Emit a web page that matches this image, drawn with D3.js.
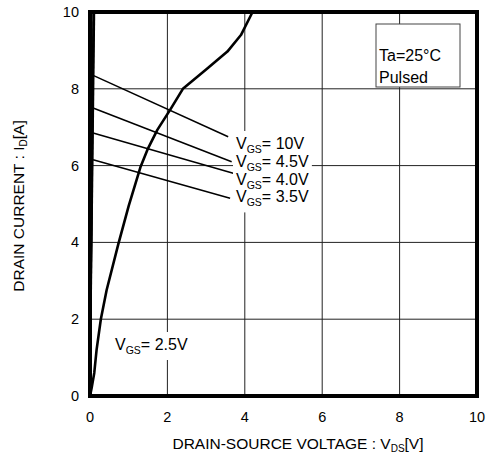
<!DOCTYPE html>
<html>
<head>
<meta charset="utf-8">
<script src="https://cdn.jsdelivr.net/npm/d3@7"></script>
<style>
  html, body { margin: 0; padding: 0; background: #fff; }
  svg { display: block; }
  text { font-family: Arial, "Liberation Sans", sans-serif; fill: #000; }
</style>
</head>
<body>
<svg id="chart" width="487" height="456"></svg>
<script>
// Axis ticks
const xTicks = [0, 2, 4, 6, 8, 10];
const yTicks = [0, 2, 4, 6, 8, 10];

// Gate-source voltage labels
const gateLabels = ["10V", "4.5V", "4.0V", "3.5V"];
const lowGateLabel = "2.5V";

// ID–VDS curves, [VDS (V), ID (A)]
const curve10V  = [[0, 0], [0.08, 10]];
const curve45V  = [[0, 0], [0.09, 10]];
const curve40V  = [[0, 0], [0.10, 10]];
const curve35V  = [[0, 0], [0.115, 10]];
const curve25V  = [
  [0, 0], [0.05, 0.25], [0.11, 0.6], [0.17, 1.2], [0.28, 2.0], [0.43, 2.76],
  [0.73, 3.95], [1.0, 4.95], [1.3, 5.95], [1.5, 6.45], [1.74, 6.93],
  [2.07, 7.45], [2.4, 8.0], [3.0, 8.5], [3.55, 8.97], [3.9, 9.4], [4.2, 10]
];

// Leader lines from the steep curves to their labels, [VDS, ID] start and end
const leaderStart = [[0.08, 8.35], [0.08, 7.5], [0.08, 6.85], [0.08, 6.15]];
const leaderEnd   = [[3.57, 6.75], [3.66, 6.1], [3.7, 5.8], [3.62, 5.15]];

const svg = d3.select("#chart");
const x = d3.scaleLinear().domain([0, 10]).range([90, 477]);
const y = d3.scaleLinear().domain([0, 10]).range([396, 12]);

// Grid
const grid = svg.append("g").attr("stroke", "#222").attr("stroke-width", 1);
grid.selectAll("line.v").data(xTicks.slice(1, -1)).join("line")
  .attr("x1", d => x(d)).attr("x2", d => x(d))
  .attr("y1", y(0)).attr("y2", y(10));
grid.selectAll("line.h").data(yTicks.slice(1, -1)).join("line")
  .attr("y1", d => y(d)).attr("y2", d => y(d))
  .attr("x1", x(0)).attr("x2", x(10));

// Tick labels
svg.append("g").selectAll("text").data(xTicks).join("text")
  .attr("x", d => x(d)).attr("y", 422)
  .attr("text-anchor", "middle").attr("font-size", 14.5)
  .text(d => d);
svg.append("g").selectAll("text").data(yTicks).join("text")
  .attr("x", 79).attr("y", d => y(d) + 5)
  .attr("text-anchor", "end").attr("font-size", 14.5)
  .text(d => d);

// Axis titles
const xt = svg.append("text").attr("x", 298).attr("y", 449)
  .attr("text-anchor", "middle").attr("font-size", 15.5);
xt.append("tspan").text("DRAIN-SOURCE VOLTAGE : V");
xt.append("tspan").attr("font-size", 10).attr("dy", 3).text("DS");
xt.append("tspan").attr("dy", -3).text("[V]");

const yt = svg.append("text").attr("transform", "translate(24,206) rotate(-90)")
  .attr("text-anchor", "middle").attr("font-size", 15.5);
yt.append("tspan").text("DRAIN CURRENT : I");
yt.append("tspan").attr("font-size", 10).attr("dy", 3).text("D");
yt.append("tspan").attr("dy", -3).text("[A]");

// Leader lines
svg.append("g").attr("stroke", "#000").attr("stroke-width", 1.5)
  .selectAll("line").data(leaderStart).join("line")
  .attr("x1", d => x(d[0])).attr("y1", d => y(d[1]))
  .attr("x2", (d, i) => x(leaderEnd[i][0])).attr("y2", (d, i) => y(leaderEnd[i][1]));

// Gate labels with white backing
function gateLabel(g, px, py, value) {
  const t = g.append("text").attr("x", px).attr("y", py).attr("font-size", 16);
  t.append("tspan").text("V");
  t.append("tspan").attr("font-size", 10.5).attr("dy", 4).text("GS");
  t.append("tspan").attr("dy", -4).text("= " + value);
  return t;
}
const labelGroup = svg.append("g");
gateLabels.forEach((v, i) => gateLabel(labelGroup, 236, 149 + i * 17.8, v));
let bb = labelGroup.node().getBBox();
labelGroup.insert("rect", ":first-child")
  .attr("x", bb.x - 3).attr("y", bb.y - 4).attr("width", bb.width + 6).attr("height", bb.height + 8)
  .attr("fill", "#fff");

const lowGroup = svg.append("g");
gateLabel(lowGroup, 115, 350, lowGateLabel);
bb = lowGroup.node().getBBox();
lowGroup.insert("rect", ":first-child")
  .attr("x", bb.x - 4).attr("y", bb.y - 4).attr("width", bb.width + 8).attr("height", bb.height + 8)
  .attr("fill", "#fff");

// Curves
const line = d3.line().x(d => x(d[0])).y(d => y(d[1]));
svg.append("g").attr("fill", "none").attr("stroke", "#000").attr("stroke-width", 1.6)
  .selectAll("path").data([curve10V, curve45V, curve40V, curve35V]).join("path")
  .attr("d", line);
svg.append("path").datum(curve25V).attr("d", line)
  .attr("fill", "none").attr("stroke", "#000").attr("stroke-width", 2.6)
  .attr("stroke-linejoin", "round");

// Conditions box
svg.append("rect").attr("x", 376).attr("y", 24).attr("width", 84).attr("height", 63)
  .attr("fill", "#fff").attr("stroke", "#444").attr("stroke-width", 1);
svg.append("text").attr("x", 379).attr("y", 61).attr("font-size", 16).text("Ta=25°C");
svg.append("text").attr("x", 379).attr("y", 83).attr("font-size", 16).text("Pulsed");

// Frame
svg.append("rect").attr("x", x(0)).attr("y", y(10))
  .attr("width", x(10) - x(0)).attr("height", y(0) - y(10))
  .attr("fill", "none").attr("stroke", "#000").attr("stroke-width", 4);
</script>
</body>
</html>
